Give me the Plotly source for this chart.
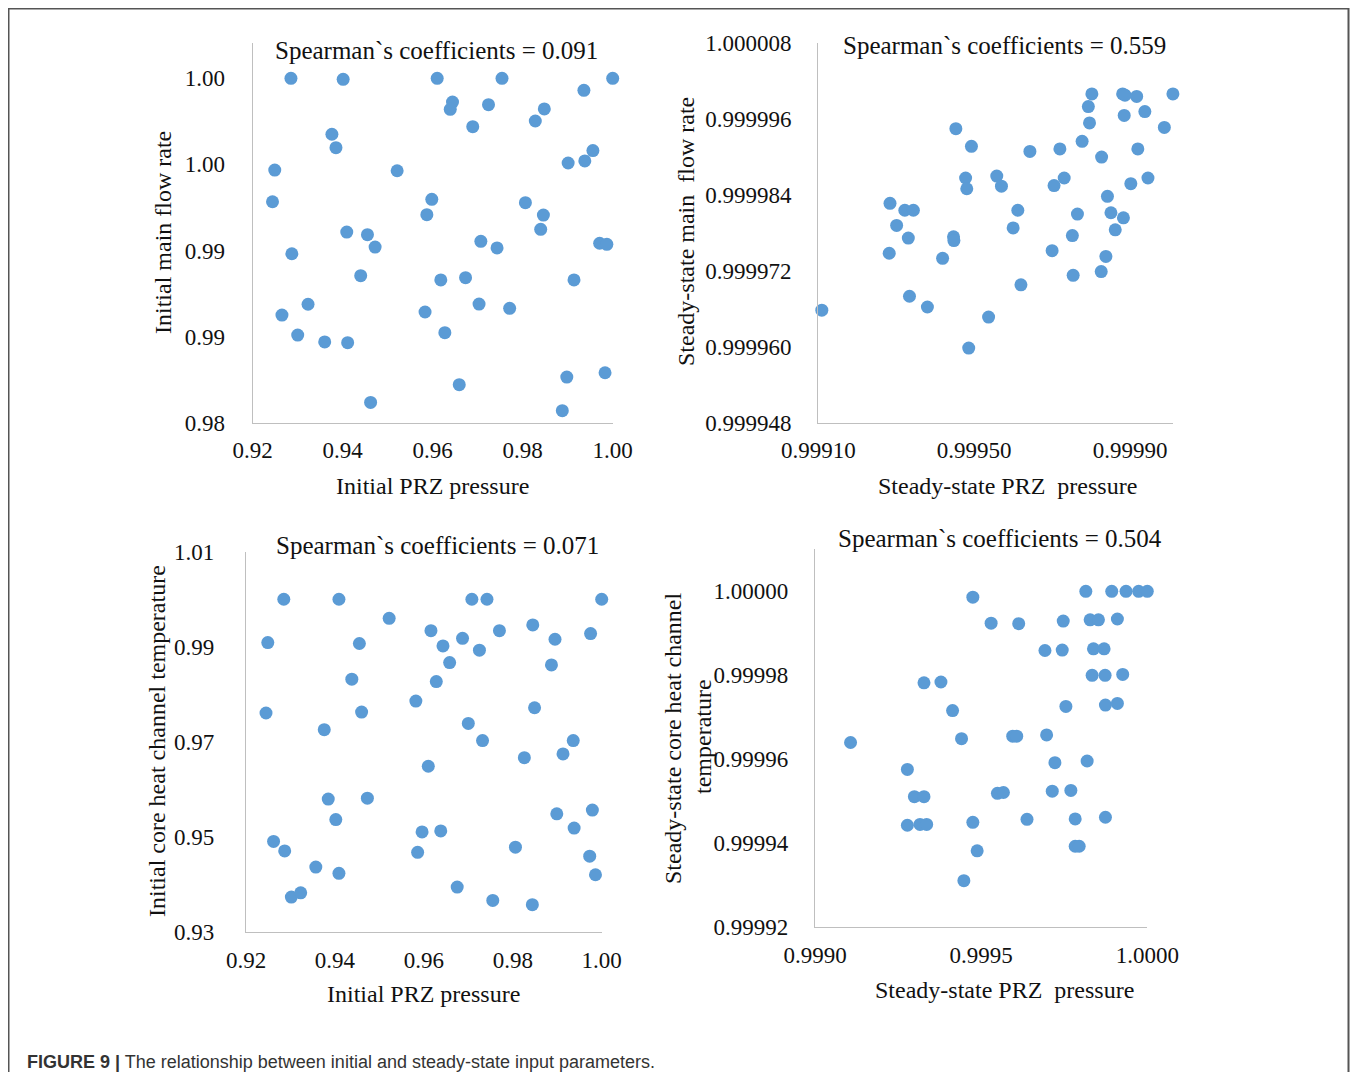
import plotly.graph_objects as go

W, H = 1350, 1064
OFF = 8  # page body margin of the html page

# ---------------- data ----------------
# (a) Initial PRZ pressure vs Initial main flow rate
x1 = [0.9285,0.9401,0.9610,0.9754,1.0000,0.9936,0.9644,0.9639,0.9724,0.9848,0.9828,0.9689,0.9376,0.9385,0.9956,0.9938,0.9901,0.9249,0.9521,0.9244,0.9598,0.9587,0.9806,0.9846,0.9840,0.9409,0.9455,0.9472,0.9707,0.9743,0.9971,0.9987,0.9287,0.9440,0.9618,0.9673,0.9914,0.9323,0.9265,0.9583,0.9703,0.9771,0.9300,0.9360,0.9411,0.9627,0.9898,0.9983,0.9659,0.9462,0.9888]
y1 = [1.0000,0.99994,1.0000,1.0000,1.0000,0.99930,0.99862,0.99820,0.99847,0.99822,0.99752,0.99719,0.99675,0.99597,0.99580,0.99520,0.99508,0.99467,0.99463,0.99283,0.99297,0.99208,0.99278,0.99206,0.99123,0.99107,0.99092,0.99020,0.99053,0.99015,0.99042,0.99036,0.98981,0.98854,0.98829,0.98842,0.98829,0.98688,0.98625,0.98643,0.98689,0.98664,0.98509,0.98469,0.98465,0.98523,0.98265,0.98290,0.98221,0.98118,0.98070]

# (b) Steady-state PRZ pressure vs Steady-state main flow rate
x2 = [0.999109,0.999802,0.999881,0.999887,0.999917,1.000010,0.999793,0.999885,0.999938,0.999796,0.999453,0.999988,0.999777,0.999493,0.999643,0.999720,0.999920,0.999827,0.999478,0.999481,0.999558,0.999570,0.999705,0.999731,0.999902,0.999946,0.999842,0.999284,0.999322,0.999344,0.999301,0.999331,0.999447,0.999448,0.999612,0.999600,0.999765,0.999851,0.999883,0.999862,0.999752,0.999282,0.999419,0.999700,0.999838,0.999754,0.999826,0.999620,0.999334,0.999380,0.999537,0.999486]
y2 = [0.9999658,1.0000000,1.0000000,0.9999998,0.9999996,1.0000000,0.9999980,0.9999966,0.9999972,0.9999954,0.9999945,0.9999947,0.9999925,0.9999917,0.9999909,0.9999913,0.9999913,0.9999900,0.9999867,0.9999850,0.9999870,0.9999854,0.9999855,0.9999867,0.9999858,0.9999867,0.9999838,0.9999827,0.9999816,0.9999816,0.9999792,0.9999772,0.9999774,0.9999768,0.9999816,0.9999788,0.9999810,0.9999812,0.9999804,0.9999785,0.9999776,0.9999748,0.9999740,0.9999752,0.9999743,0.9999713,0.9999719,0.9999698,0.9999680,0.9999663,0.9999647,0.9999598]

# (c) Initial PRZ pressure vs Initial core heat channel temperature
x3 = [0.9285,0.9409,0.9708,0.9742,1.0000,0.9522,0.9616,0.9770,0.9845,0.9975,0.9249,0.9455,0.9687,0.9643,0.9725,0.9895,0.9658,0.9887,0.9438,0.9628,0.9582,0.9245,0.9460,0.9849,0.9376,0.9700,0.9732,0.9936,0.9913,0.9826,0.9610,0.9385,0.9473,0.9402,0.9899,0.9979,0.9938,0.9596,0.9638,0.9262,0.9287,0.9586,0.9806,0.9973,0.9357,0.9409,0.9986,0.9675,0.9302,0.9323,0.9755,0.9844]
y3 = [1.0000,1.0000,1.0000,1.0000,1.0000,0.9960,0.9934,0.9934,0.9946,0.9928,0.9909,0.9907,0.9918,0.9902,0.9893,0.9916,0.9867,0.9862,0.9832,0.9827,0.9786,0.9761,0.9763,0.9772,0.9726,0.9739,0.9703,0.9703,0.9675,0.9667,0.9649,0.9580,0.9582,0.9537,0.9549,0.9557,0.9519,0.9511,0.9513,0.9491,0.9471,0.9468,0.9479,0.9460,0.9437,0.9424,0.9421,0.9395,0.9374,0.9383,0.9367,0.9358]

# (d) Steady-state PRZ pressure vs Steady-state core heat channel temperature
x4 = [0.999107,0.999475,0.999815,0.999893,0.999936,0.999974,1.000000,0.999530,0.999613,0.999747,0.999828,0.999853,0.999910,0.999692,0.999744,0.999838,0.999870,0.999328,0.999379,0.999834,0.999873,0.999926,0.999414,0.999755,0.999874,0.999910,0.999441,0.999595,0.999607,0.999697,0.999278,0.999722,0.999819,0.999299,0.999328,0.999549,0.999567,0.999714,0.999770,0.999278,0.999316,0.999336,0.999475,0.999638,0.999783,0.999874,0.999488,0.999783,0.999795,0.999448]
y4 = [0.9999640,0.9999986,1.0000000,1.0000000,1.0000000,1.0000000,1.0000000,0.9999924,0.9999923,0.9999929,0.9999932,0.9999932,0.9999934,0.9999859,0.9999860,0.9999863,0.9999863,0.9999782,0.9999784,0.9999800,0.9999800,0.9999802,0.9999716,0.9999726,0.9999729,0.9999733,0.9999649,0.9999655,0.9999655,0.9999658,0.9999576,0.9999592,0.9999596,0.9999511,0.9999511,0.9999519,0.9999521,0.9999524,0.9999526,0.9999443,0.9999445,0.9999445,0.9999450,0.9999457,0.9999458,0.9999462,0.9999382,0.9999393,0.9999393,0.9999311]

# tick values / labels
xt_init = [0.92, 0.94, 0.96, 0.98, 1.00]
xt_init_text = ["0.92", "0.94", "0.96", "0.98", "1.00"]
yt1 = [0.980, 0.985, 0.990, 0.995, 1.000]
yt1_text = ["0.98", "0.99", "0.99", "1.00", "1.00"]
xt2 = [0.9991, 0.9995, 0.9999]
xt2_text = ["0.99910", "0.99950", "0.99990"]
yt2 = [0.999948, 0.999960, 0.999972, 0.999984, 0.999996, 1.000008]
yt2_text = ["0.999948", "0.999960", "0.999972", "0.999984", "0.999996", "1.000008"]
yt3 = [0.93, 0.95, 0.97, 0.99, 1.01]
yt3_text = ["0.93", "0.95", "0.97", "0.99", "1.01"]
xt4 = [0.9990, 0.9995, 1.0000]
xt4_text = ["0.9990", "0.9995", "1.0000"]
yt4 = [0.99992, 0.99994, 0.99996, 0.99998, 1.00000]
yt4_text = ["0.99992", "0.99994", "0.99996", "0.99998", "1.00000"]

titles = ["Spearman`s coefficients = 0.091", "Spearman`s coefficients = 0.559",
          "Spearman`s coefficients = 0.071", "Spearman`s coefficients = 0.504"]

# ---------------- figure ----------------
BLUE = "#5B9BD5"
SERIF = "Liberation Serif"
fig = go.Figure()

def px_x(p):
    return (p - OFF) / W

def px_y(p):
    return 1 - (p - OFF) / H

panels = [
    (x1, y1, (252.7, 612.7), (43, 422.7), [0.92, 1.00], [0.98, 1.00205], xt_init, xt_init_text, yt1, yt1_text, 22),
    (x2, y2, (818.3, 1173.3), (43.3, 422.7), [0.9991, 1.000011], [0.999948, 1.000008], xt2, xt2_text, yt2, yt2_text, 21),
    (x3, y3, (246, 601.7), (551.7, 932.3), [0.92, 1.00], [0.93, 1.01], xt_init, xt_init_text, yt3, yt3_text, 26),
    (x4, y4, (815, 1147.3), (549.3, 927.3), [0.9990, 1.0000], [0.99992, 1.00001], xt4, xt4_text, yt4, yt4_text, 21),
]

layout_axes = {}
for i, (xs, ys, xd, yd, xr, yr, xtv, xtt, ytv, ytt, ystand) in enumerate(panels, start=1):
    sfx = "" if i == 1 else str(i)
    fig.add_trace(go.Scatter(
        x=xs, y=ys, mode="markers",
        marker=dict(color=BLUE, size=13, line=dict(width=0)),
        xaxis="x" + sfx, yaxis="y" + sfx, cliponaxis=False, showlegend=False,
    ))
    layout_axes["xaxis" + sfx] = dict(
        domain=[px_x(xd[0]), px_x(xd[1])], range=xr, anchor="y" + sfx,
        showline=True, linecolor="#BFBFBF", linewidth=1.3, showgrid=False, zeroline=False,
        tickmode="array", tickvals=xtv, ticktext=xtt, ticks="", automargin=False,
        ticklabelstandoff=7,
        tickfont=dict(family=SERIF, size=23, color="#111"),
    )
    layout_axes["yaxis" + sfx] = dict(
        domain=[px_y(yd[1]), px_y(yd[0])], range=yr, anchor="x" + sfx,
        showline=True, linecolor="#BFBFBF", linewidth=1.3, showgrid=False, zeroline=False,
        tickmode="array", tickvals=ytv, ticktext=ytt, ticks="", automargin=False,
        ticklabelstandoff=ystand,
        tickfont=dict(family=SERIF, size=23, color="#111"),
    )

ann = []
def add_text(text, x, y, size=24, angle=0, family=SERIF, xanchor="center", color="#111"):
    ann.append(dict(text=text, x=px_x(x), y=px_y(y), xref="paper", yref="paper",
                    showarrow=False, textangle=angle, xanchor=xanchor, yanchor="middle",
                    font=dict(family=family, size=size, color=color)))

# panel titles
add_text(titles[0], 436, 50, size=25)
add_text(titles[1], 1004, 45, size=25)
add_text(titles[2], 437, 545, size=25)
add_text(titles[3], 1000, 538, size=25)
# x-axis titles
add_text("Initial PRZ pressure", 432, 486)
add_text("Steady-state PRZ  pressure", 1007, 486)
add_text("Initial PRZ pressure", 423, 994)
add_text("Steady-state PRZ  pressure", 1004, 990)
# y-axis titles
add_text("Initial main flow rate", 163, 233, angle=-90)
add_text("Steady-state main  flow rate", 686, 232, angle=-90)
add_text("Initial core heat channel temperature", 157, 741, angle=-90)
add_text("Steady-state core heat channel", 673, 738, angle=-90)
add_text("temperature", 703, 737, angle=-90)
# caption
add_text("<b>FIGURE 9 |</b> The relationship between initial and steady-state input parameters.",
         25, 1062, size=18, family="Liberation Sans", xanchor="left", color="#333")

shapes = [dict(type="rect", xref="paper", yref="paper",
               x0=px_x(8.5), x1=px_x(1348.5), y0=px_y(8.5), y1=px_y(1100),
               line=dict(color="#555", width=2))]

fig.update_layout(
    width=W, height=H, margin=dict(l=0, r=0, t=0, b=0, autoexpand=False),
    paper_bgcolor="white", plot_bgcolor="white",
    annotations=ann, shapes=shapes, **layout_axes,
)

fig.write_html("out.html")
